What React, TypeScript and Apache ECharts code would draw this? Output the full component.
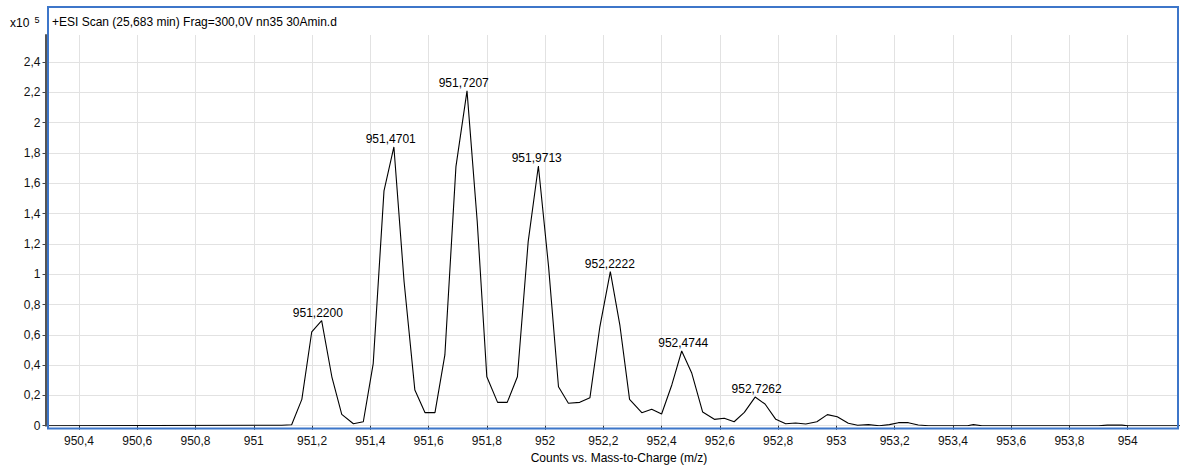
import React, { useEffect, useRef } from "react";
import * as echarts from "echarts";

// m/z sample positions and intensities (x10^5 counts)
const mzValues = [
  950.29, 951.096, 951.13, 951.165, 951.199, 951.233, 951.268, 951.302, 951.342, 951.376,
  951.41, 951.447, 951.481, 951.516, 951.553, 951.588, 951.622, 951.656, 951.694, 951.732,
  951.767, 951.8, 951.837, 951.87, 951.905, 951.942, 951.977, 952.012, 952.046, 952.08,
  952.119, 952.154, 952.188, 952.224, 952.257, 952.29, 952.332, 952.366, 952.4, 952.435,
  952.469, 952.503, 952.541, 952.581, 952.615, 952.649, 952.684, 952.721, 952.755, 952.792,
  952.826, 952.86, 952.895, 952.933, 952.969, 953.003, 953.041, 953.073, 953.11, 953.147,
  953.182, 953.213, 953.247, 953.281, 953.316, 953.45, 953.47, 953.5, 953.9, 953.93,
  953.98, 954.0, 954.18,
];
const countValues = [
  0, 0.003, 0.006, 0.174, 0.62, 0.693, 0.323, 0.075, 0.013, 0.026,
  0.41, 1.55, 1.84, 0.95, 0.235, 0.086, 0.086, 0.467, 1.71, 2.21,
  1.35, 0.323, 0.154, 0.154, 0.323, 1.215, 1.714, 1.05, 0.257, 0.148,
  0.154, 0.185, 0.653, 1.017, 0.66, 0.174, 0.086, 0.108, 0.077, 0.269,
  0.493, 0.35, 0.09, 0.042, 0.049, 0.026, 0.088, 0.189, 0.143, 0.042,
  0.013, 0.018, 0.011, 0.026, 0.073, 0.059, 0.016, 0.003, 0.007, 0,
  0.007, 0.02, 0.02, 0.005, 0, 0, 0.007, 0, 0, 0.004,
  0.004, 0, 0,
];

// labelled peaks
const peakMz = [951.22, 951.4701, 951.7207, 951.9713, 952.2222, 952.4744, 952.7262];
const peakHeight = [0.693, 1.84, 2.21, 1.714, 1.017, 0.493, 0.189];

const titleText = "+ESI Scan (25,683 min) Frag=300,0V nn35 30Amin.d";
const xAxisTitle = "Counts vs. Mass-to-Charge (m/z)";

const FONT = "'Liberation Sans', Arial, Helvetica, sans-serif";

export default function App() {
  const ref = useRef<HTMLDivElement>(null);

  useEffect(() => {
    if (!ref.current) return;
    const chart = echarts.init(ref.current, undefined, { renderer: "svg" });
    const lineData = mzValues.map((x, i) => [x, countValues[i]]);
    const peakData = peakMz.map((x, i) => [x, peakHeight[i]]);

    chart.setOption({
      animation: false,
      backgroundColor: "#ffffff",
      textStyle: { fontFamily: FONT },
      grid: { left: 48, right: 2, top: 35, bottom: 42.3, containLabel: false },
      xAxis: {
        type: "value",
        min: 950.2936,
        max: 954.1727,
        splitNumber: 19,
        minInterval: 0.2,
        maxInterval: 0.2,
        axisLine: { show: false },
        axisTick: { show: true, length: 4, lineStyle: { color: "#333", width: 1 } },
        axisLabel: {
          show: true,
          margin: 9,
          fontSize: 12,
          color: "#111",
          fontFamily: FONT,
          showMinLabel: false,
          showMaxLabel: false,
          formatter: (v: number) => String(Math.round(v * 10) / 10).replace(".", ","),
        },
        splitLine: {
          show: true,
          showMinLine: false,
          showMaxLine: false,
          lineStyle: { color: "#e2e2e2", width: 1 },
        },
      },
      yAxis: {
        type: "value",
        min: 0,
        max: 2.579,
        interval: 0.2,
        offset: 2.5,
        axisLine: { show: true, lineStyle: { color: "#555", width: 2 } },
        axisTick: { show: true, length: 3, lineStyle: { color: "#444", width: 1 } },
        axisLabel: {
          margin: 5,
          fontSize: 12,
          color: "#111",
          fontFamily: FONT,
          showMaxLabel: false,
          formatter: (v: number) => String(Math.round(v * 10) / 10).replace(".", ","),
        },
        splitLine: {
          show: true,
          showMaxLine: false,
          lineStyle: { color: "#e2e2e2", width: 1 },
        },
      },
      series: [
        {
          type: "line",
          data: lineData,
          symbol: "none",
          showSymbol: false,
          lineStyle: { color: "#000", width: 1.1 },
          z: 3,
        },
        {
          type: "scatter",
          data: peakData,
          symbolSize: 0,
          itemStyle: { color: "#000", opacity: 1 },
          label: {
            show: true,
            position: "top",
            distance: 2,
            fontSize: 12,
            color: "#000",
            opacity: 1,
            fontFamily: FONT,
            formatter: (p: any) => p.value[0].toFixed(4).replace(".", ","),
          },
          emphasis: { disabled: true },
          z: 4,
        },
      ],
      graphic: [
        {
          type: "rect",
          shape: { x: 48, y: 7, width: 1130, height: 421.5 },
          style: { fill: "none", stroke: "#3d76c9", lineWidth: 2 },
          z: 100,
          silent: true,
        },
        {
          type: "text",
          x: 52,
          y: 21.5,
          style: {
            text: titleText,
            font: `12px ${FONT}`,
            fill: "#000",
            verticalAlign: "middle",
            align: "left",
          },
          z: 101,
        },
        {
          type: "text",
          x: 10,
          y: 23,
          style: {
            text: "x10",
            font: `12px ${FONT}`,
            fill: "#000",
            verticalAlign: "middle",
            align: "left",
          },
          z: 101,
        },
        {
          type: "text",
          x: 34.5,
          y: 19.5,
          style: {
            text: "5",
            font: `9px ${FONT}`,
            fill: "#000",
            verticalAlign: "middle",
            align: "left",
          },
          z: 101,
        },
        {
          type: "text",
          x: 619,
          y: 458,
          style: {
            text: xAxisTitle,
            font: `12px ${FONT}`,
            fill: "#000",
            verticalAlign: "middle",
            align: "center",
          },
          z: 101,
        },
      ],
    });

    return () => {
      chart.dispose();
    };
  }, []);

  return (
    <div
      ref={ref}
      style={{ position: "fixed", left: 0, top: 0, width: 1180, height: 468 }}
    />
  );
}
